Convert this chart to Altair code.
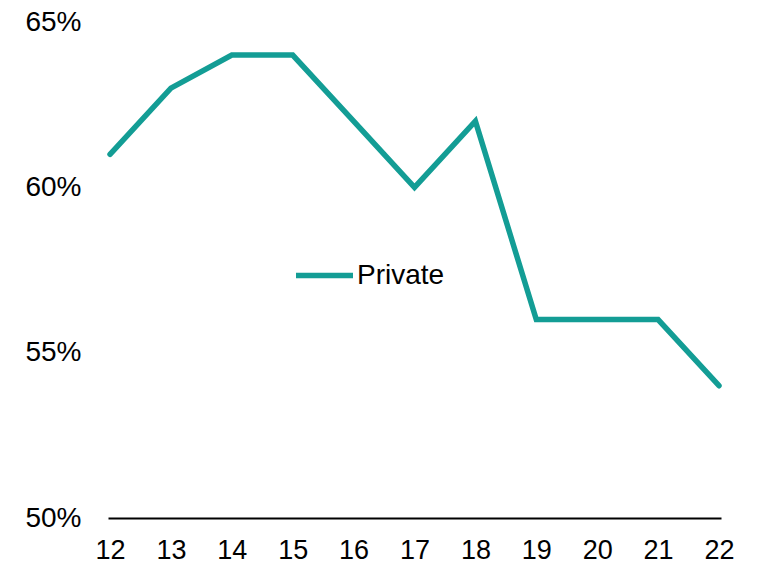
import altair as alt
import pandas as pd

years = ["12", "13", "14", "15", "16", "17", "18", "19", "20", "21", "22"]
private = [61, 63, 64, 64, 62, 60, 62, 56, 56, 56, 54]
series = ["Private"] * len(years)

df = pd.DataFrame({"year": years, "value": [v / 100 for v in private], "series": series})

chart = alt.Chart(df).mark_line(strokeWidth=5.5, strokeCap="round", strokeJoin="miter").encode(
    x=alt.X("year:O", sort=years, title=None,
            scale=alt.Scale(type="point", padding=0.033),
            axis=alt.Axis(labelAngle=0, ticks=False, domain=True, domainColor="#000000",
                          domainWidth=2, labelFontSize=27,
                          labelFont="Liberation Sans, Arial",
                          labelColor="#000000", labelPadding=19, grid=False)),
    y=alt.Y("value:Q", title=None,
            scale=alt.Scale(domain=[0.5, 0.65], nice=False, zero=False),
            axis=alt.Axis(values=[0.5, 0.55, 0.6, 0.65], format=".0%", ticks=False, domain=False,
                          grid=False, labelFontSize=28, labelFont="Liberation Sans, Arial",
                          labelColor="#000000", labelPadding=27)),
    color=alt.Color("series:N", scale=alt.Scale(range=["#139d95"]),
                    legend=alt.Legend(title=None, orient="none", legendX=185, legendY=222,
                                      symbolType="stroke", symbolSize=3249, symbolStrokeWidth=5.5,
                                      labelFontSize=28, labelFont="Liberation Sans, Arial",
                                      labelColor="#000000", labelOffset=1, padding=0)),
).properties(
    width=613, height=496,
    autosize=alt.AutoSizeParams(type="none"),
    padding={"left": 108, "top": 22, "right": 38, "bottom": 48},
).configure(background="#ffffff").configure_view(stroke=None, strokeWidth=0)

chart.save("out.html", embed_options={"renderer": "svg", "actions": False})
